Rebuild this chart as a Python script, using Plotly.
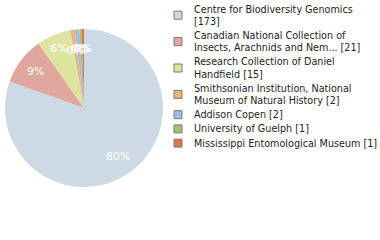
import math
import plotly.graph_objects as go

labels = [
    "Centre for Biodiversity Genomics<br>[173]",
    "Canadian National Collection of<br>Insects, Arachnids and Nem... [21]",
    "Research Collection of Daniel<br>Handfield [15]",
    "Smithsonian Institution, National<br>Museum of Natural History [2]",
    "Addison Copen [2]",
    "University of Guelph [1]",
    "Mississippi Entomological Museum [1]",
]
counts = [173, 21, 15, 2, 2, 1, 1]
colors = ["#cddae6", "#dfa79e", "#dde3a0", "#f0b27a", "#9ebfe0", "#9dc46e", "#e07252"]

total = sum(counts)
pct_text = [f"{math.floor(c * 100 / total)}%" for c in counts]
small = [c / total < 0.05 for c in counts]

W, H = 380, 240
cx, cy0, R = 84, 108, 79


def domain(rad):
    return dict(x=[(cx - rad) / W, (cx + rad) / W],
                y=[(H - cy0 - rad) / H, (H - cy0 + rad) / H])


clear = ["rgba(0,0,0,0)"] * len(counts)
common = dict(labels=labels, values=counts, sort=False, direction="clockwise",
              rotation=0, hoverinfo="none", showlegend=False)
tfont = dict(color="white", size=11, family="DejaVu Sans")

fig = go.Figure()
# coloured pie
fig.add_trace(go.Pie(
    textinfo="none", marker=dict(colors=colors, line=dict(width=0)),
    domain=domain(R), **common,
))
# transparent ring carrying the labels of the larger slices at ~0.75 R
fig.add_trace(go.Pie(
    text=[("" if s else t) for t, s in zip(pct_text, small)], textinfo="text",
    textposition="inside", insidetextorientation="horizontal", textfont=tfont,
    marker=dict(colors=clear, line=dict(width=0)), hole=0.5,
    domain=domain(R), **common,
))
# transparent smaller pie carrying the labels of the thin slices
fig.add_trace(go.Pie(
    text=[(t if s else "") for t, s in zip(pct_text, small)], textinfo="text",
    textposition="inside", insidetextorientation="horizontal", textfont=tfont,
    marker=dict(colors=clear, line=dict(width=0)),
    domain=domain(R * 0.76), **common,
))

# legend drawn as squares + text lines
line_h = 12.2
item_gap = 2.0
sq_x0, sq_size, text_x = 174, 8, 192
y_top = 2.0
annotations, shapes = [], []
for lab, col in zip(labels, colors):
    lines = lab.split("<br>")
    h = line_h * len(lines) + item_gap
    cy = y_top + h / 2
    shapes.append(dict(
        type="rect", xref="paper", yref="paper",
        x0=sq_x0 / W, x1=(sq_x0 + sq_size) / W,
        y0=1 - (cy - sq_size / 2) / H, y1=1 - (cy + sq_size / 2) / H,
        fillcolor=col, line=dict(color="#7a7a7a", width=1),
    ))
    for i, ln in enumerate(lines):
        ly = cy + (i - (len(lines) - 1) / 2) * line_h
        annotations.append(dict(
            text=ln, xref="paper", yref="paper",
            x=text_x / W, y=1 - ly / H, xanchor="left", yanchor="middle",
            showarrow=False,
            font=dict(family="DejaVu Sans Condensed", size=10.7, color="#222222"),
        ))
    y_top += h

fig.update_layout(
    width=W, height=H,
    margin=dict(l=0, r=0, t=0, b=0),
    paper_bgcolor="white", plot_bgcolor="white",
    uniformtext=dict(minsize=11, mode="show"),
    showlegend=False,
    annotations=annotations, shapes=shapes,
)

fig.write_html("out.html")
